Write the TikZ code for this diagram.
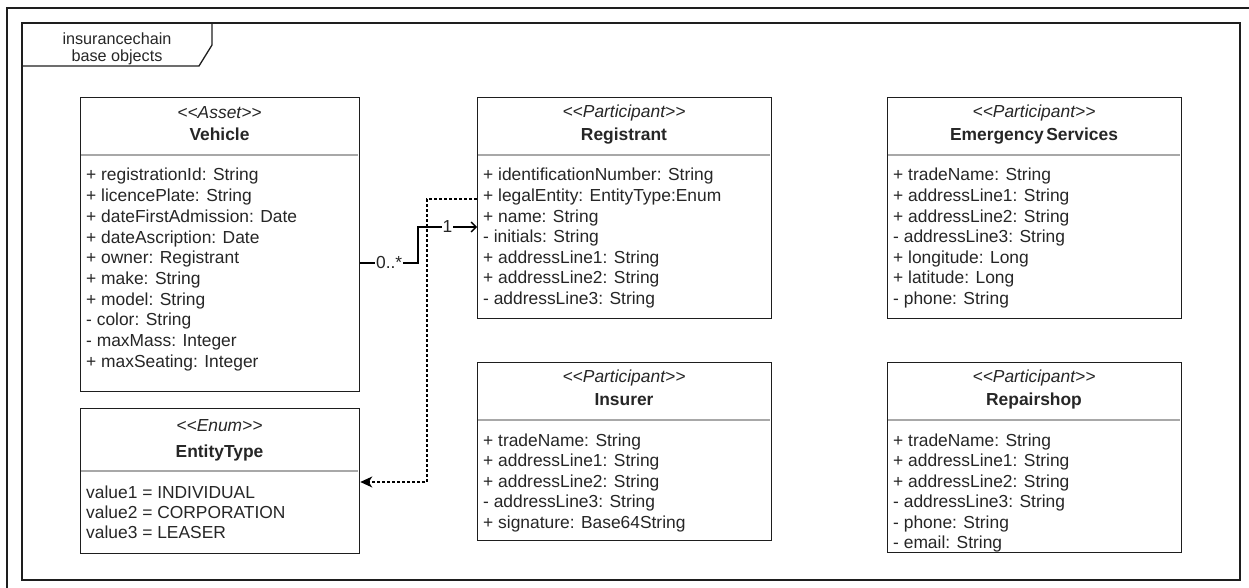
\documentclass[tikz,border=0pt]{standalone}
\usepackage{fontspec}
\setmainfont{Liberation Sans}
\usetikzlibrary{arrows.meta}
\definecolor{txt}{HTML}{262626}
\definecolor{edge}{HTML}{1E1E1E}
\definecolor{sepc}{HTML}{A8A8A8}
\newcommand{\stL}{\textless\kern0pt\textless}
\newcommand{\stR}{\textgreater\kern0pt\textgreater}
\tikzset{
  x=1pt, y=-1pt,
  classbox/.style={draw=edge, line width=1.3pt, fill=white, inner sep=0pt, anchor=north west},
  sepline/.style={draw=sepc, line width=1.3pt},
  frameline/.style={draw=edge, line width=1.3pt},
  attr/.style={inner sep=0pt, anchor=base west, text=txt, font=\fontsize{17.4}{20.6}\selectfont},
  stereo/.style={inner sep=0pt, anchor=base, text=txt, font=\fontsize{17.4}{20.6}\selectfont\itshape},
  cname/.style={inner sep=0pt, anchor=base, text=txt, font=\fontsize{17.4}{20.6}\selectfont\bfseries},
  tabtext/.style={inner sep=0pt, anchor=base, text=txt, font=\fontsize{16.2}{17}\selectfont},
  conn/.style={draw=black, line width=1.3pt},
  dotconn/.style={draw=black, line width=1.3pt, dash pattern=on 2.6pt off 2.4pt},
  mult/.style={fill=white, inner sep=1pt, text=txt, font=\fontsize{17.4}{20.6}\selectfont}
}
\begin{document}
\begin{tikzpicture}
\useasboundingbox (0,0) rectangle (1249,588);
% canvas border (left and top visible)
\draw[frameline] (7,600) -- (7,8) -- (1260,8);
% package frame
\draw[frameline] (22,23) rectangle (1240,580);
\draw[frameline] (22,66) -- (199,66) -- (212,45) -- (212,23);
\node[tabtext] (tab1) at (117,45) {insurancechain};
\node[tabtext] (tab2) at (117,62) {base objects};

% ---------- Vehicle ----------
\node[classbox, minimum width=279, minimum height=294] (vehicle) at (80,97) {};
\draw[sepline] (81,155) -- (358,155);
\node[stereo] (vs) at (219.5,119) {\stL Asset\stR};
\node[cname] (vn) at (219.5,141) {Vehicle};
\foreach \t [count=\i from 0] in {+ registrationId: String, + licencePlate: String, + dateFirstAdmission: Date, + dateAscription: Date, + owner: Registrant, + make: String, + model: String, - color: String, - maxMass: Integer, + maxSeating: Integer}
  \node[attr] (va\i) at (86,181+\i*20.67) {\t};

% ---------- EntityType ----------
\node[classbox, minimum width=279, minimum height=145] (entity) at (80,408) {};
\draw[sepline] (81,471) -- (358,471);
\node[stereo] (es) at (219.5,431) {\stL Enum\stR};
\node[cname] (en) at (219.5,457) {EntityType};
\foreach \t [count=\i from 0] in {value1 = INDIVIDUAL, value2 = CORPORATION, value3 = LEASER}
  \node[attr] (ea\i) at (86,498+\i*20.2) {\t};

% ---------- Registrant ----------
\node[classbox, minimum width=294, minimum height=221] (registrant) at (477,97) {};
\draw[sepline] (478,155) -- (770,155);
\node[stereo] (rs) at (624,118) {\stL Participant\stR};
\node[cname] (rn) at (624,141) {Registrant};
\foreach \t [count=\i from 0] in {+ identificationNumber: String, + legalEntity: EntityType:Enum, + name: String, - initials: String, + addressLine1: String, + addressLine2: String, - addressLine3: String}
  \node[attr] (ra\i) at (483,181+\i*20.55) {\t};

% ---------- Emergency Services ----------
\node[classbox, minimum width=294, minimum height=221] (emergency) at (887,97) {};
\draw[sepline] (888,155) -- (1180,155);
\node[stereo] (ms) at (1034,118) {\stL Participant\stR};
\node[cname] (mn) at (1034,141) {Emergency\kern2.5pt Services};
\foreach \t [count=\i from 0] in {+ tradeName: String, + addressLine1: String, + addressLine2: String, - addressLine3: String, + longitude: Long, + latitude: Long, - phone: String}
  \node[attr] (ma\i) at (893,181+\i*20.55) {\t};

% ---------- Insurer ----------
\node[classbox, minimum width=294, minimum height=178] (insurer) at (477,362) {};
\draw[sepline] (478,420) -- (770,420);
\node[stereo] (is) at (624,382) {\stL Participant\stR};
\node[cname] (in) at (624,405) {Insurer};
\foreach \t [count=\i from 0] in {+ tradeName: String, + addressLine1: String, + addressLine2: String, - addressLine3: String, + signature: Base64String}
  \node[attr] (ia\i) at (483,446+\i*20.55) {\t};

% ---------- Repairshop ----------
\node[classbox, minimum width=294, minimum height=190] (repair) at (887,362) {};
\draw[sepline] (888,420) -- (1180,420);
\node[stereo] (ps) at (1034,382) {\stL Participant\stR};
\node[cname] (pn) at (1034,405) {Repairshop};
\foreach \t [count=\i from 0] in {+ tradeName: String, + addressLine1: String, + addressLine2: String, - addressLine3: String, - phone: String, - email: String}
  \node[attr] (pa\i) at (893,446+\i*20.55) {\t};

% ---------- connectors ----------
\coordinate (c1) at (0,263);
\coordinate (c2) at (0,227);
\coordinate (d1) at (0,199);
\coordinate (d2) at (0,482);
\draw[conn, -{Straight Barb[length=5pt,width=10pt]}]
  (vehicle.east |- c1) -- node[mult] (m0) {0..*} (418,263) -- (418,227)
  -- node[mult] (m1) {1} (registrant.west |- c2);
\draw[dotconn, -{Stealth[length=12pt,width=11pt,inset=3.5pt]}]
  (registrant.west |- d1) -- (427,199) -- (427,482) -- (entity.east |- d2);
\end{tikzpicture}
\end{document}
